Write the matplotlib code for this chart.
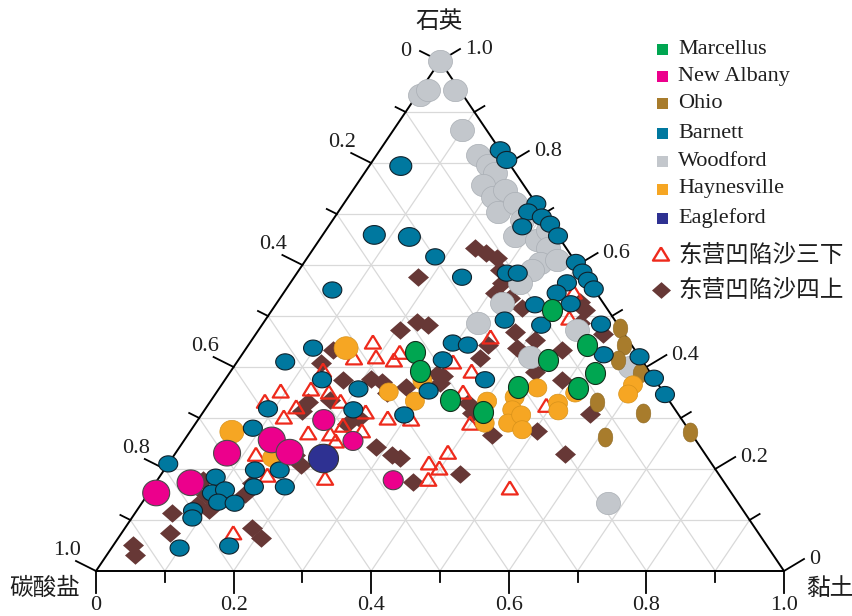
import numpy as np
import matplotlib.pyplot as plt

plt.rcParams["font.family"] = ["Liberation Serif", "Noto Sans CJK SC"]

# Output canvas and the triangle's corners in pixels:
# carbonate apex lower left, clay apex lower right, quartz apex on top.
W, H = 853, 616
X0, X1, Y0, Y1 = 96, 784, 571, 61

# Compositions as (quartz, carbonate, clay) fractions
MARCELLUS = [
    (0.512, 0.081, 0.407), (0.443, 0.065, 0.492), (0.414, 0.136, 0.450),
    (0.388, 0.081, 0.531), (0.361, 0.206, 0.433), (0.359, 0.120, 0.521),
    (0.335, 0.318, 0.347), (0.312, 0.282, 0.406), (0.429, 0.322, 0.249),
    (0.392, 0.333, 0.275),
]
NEW_ALBANY = [
    (0.153, 0.836, 0.011), (0.173, 0.776, 0.051), (0.231, 0.694, 0.075),
    (0.257, 0.616, 0.127), (0.233, 0.602, 0.165), (0.296, 0.521, 0.183),
    (0.255, 0.499, 0.246), (0.178, 0.479, 0.343),
]
OHIO = [
    (0.476, 0.000, 0.524), (0.443, 0.011, 0.546), (0.414, 0.035, 0.551),
    (0.388, 0.015, 0.597), (0.331, 0.106, 0.563), (0.310, 0.050, 0.640),
    (0.263, 0.129, 0.608), (0.272, 0.000, 0.728),
]
BARNETT = [
    (0.794, 0.160, 0.046), (0.825, 0.000, 0.175), (0.806, 0.000, 0.194),
    (0.659, 0.266, 0.075), (0.655, 0.217, 0.128), (0.616, 0.199, 0.185),
    (0.551, 0.381, 0.068), (0.720, 0.000, 0.280), (0.704, 0.020, 0.276),
    (0.694, 0.005, 0.301), (0.675, 0.043, 0.282), (0.680, 0.000, 0.320),
    (0.657, 0.000, 0.343), (0.605, 0.000, 0.395), (0.586, 0.000, 0.414),
    (0.570, 0.000, 0.430), (0.553, 0.000, 0.447), (0.576, 0.180, 0.244),
    (0.584, 0.111, 0.305), (0.584, 0.095, 0.321), (0.565, 0.033, 0.402),
    (0.545, 0.058, 0.397), (0.524, 0.048, 0.428), (0.522, 0.101, 0.377),
    (0.492, 0.160, 0.348), (0.482, 0.112, 0.406), (0.484, 0.024, 0.492),
    (0.447, 0.258, 0.295), (0.443, 0.238, 0.319), (0.414, 0.289, 0.297),
    (0.424, 0.050, 0.526), (0.375, 0.247, 0.378), (0.420, 0.000, 0.580),
    (0.378, 0.000, 0.622), (0.346, 0.000, 0.654), (0.437, 0.466, 0.097),
    (0.410, 0.520, 0.070), (0.375, 0.484, 0.141), (0.357, 0.440, 0.203),
    (0.353, 0.340, 0.307), (0.316, 0.468, 0.216), (0.306, 0.399, 0.295),
    (0.318, 0.591, 0.091), (0.280, 0.632, 0.088), (0.210, 0.790, 0.000),
    (0.184, 0.734, 0.082), (0.198, 0.670, 0.132), (0.198, 0.634, 0.168),
    (0.165, 0.643, 0.192), (0.153, 0.755, 0.092), (0.159, 0.733, 0.108),
    (0.135, 0.755, 0.110), (0.133, 0.732, 0.135), (0.165, 0.688, 0.147),
    (0.118, 0.800, 0.082), (0.104, 0.808, 0.088), (0.045, 0.856, 0.099),
    (0.049, 0.782, 0.169),
]
WOODFORD = [
    (1.000, 0.000, 0.000), (0.933, 0.062, 0.005), (0.943, 0.046, 0.011),
    (0.943, 0.006, 0.051), (0.865, 0.035, 0.100), (0.816, 0.037, 0.147),
    (0.796, 0.032, 0.172), (0.780, 0.030, 0.190), (0.757, 0.059, 0.184),
    (0.733, 0.056, 0.211), (0.747, 0.032, 0.221), (0.704, 0.064, 0.232),
    (0.722, 0.030, 0.248), (0.657, 0.062, 0.281), (0.649, 0.034, 0.317),
    (0.669, 0.009, 0.322), (0.633, 0.027, 0.340), (0.604, 0.053, 0.343),
    (0.610, 0.025, 0.365), (0.590, 0.071, 0.339), (0.565, 0.101, 0.334),
    (0.525, 0.148, 0.327), (0.486, 0.202, 0.312), (0.472, 0.065, 0.463),
    (0.420, 0.159, 0.421), (0.400, 0.024, 0.576), (0.133, 0.190, 0.677),
    (0.688, 0.037, 0.275),
]
HAYNESVILLE = [
    (0.437, 0.418, 0.145), (0.273, 0.666, 0.061), (0.222, 0.633, 0.145),
    (0.351, 0.399, 0.250), (0.333, 0.370, 0.297), (0.373, 0.339, 0.288),
    (0.359, 0.179, 0.462), (0.341, 0.221, 0.438), (0.333, 0.265, 0.402),
    (0.316, 0.237, 0.447), (0.290, 0.256, 0.454), (0.306, 0.229, 0.465),
    (0.277, 0.242, 0.481), (0.290, 0.290, 0.420), (0.329, 0.164, 0.507),
    (0.314, 0.171, 0.515), (0.349, 0.129, 0.522), (0.365, 0.037, 0.598),
    (0.347, 0.053, 0.600),
]
EAGLEFORD = [(0.222, 0.559, 0.219)]
# 东营凹陷 沙三下 samples
SHA3_LOWER = [
    (0.449, 0.373, 0.178), (0.418, 0.416, 0.166), (0.420, 0.383, 0.197),
    (0.414, 0.360, 0.226), (0.429, 0.344, 0.227), (0.394, 0.473, 0.133),
    (0.353, 0.555, 0.092), (0.357, 0.509, 0.134), (0.351, 0.486, 0.163),
    (0.333, 0.588, 0.079), (0.322, 0.548, 0.130), (0.302, 0.576, 0.122),
    (0.333, 0.478, 0.189), (0.312, 0.452, 0.236), (0.300, 0.426, 0.274),
    (0.298, 0.393, 0.309), (0.271, 0.556, 0.173), (0.269, 0.525, 0.206),
    (0.286, 0.498, 0.216), (0.275, 0.476, 0.249), (0.255, 0.524, 0.221),
    (0.229, 0.653, 0.118), (0.188, 0.657, 0.155), (0.182, 0.576, 0.242),
    (0.075, 0.763, 0.162), (0.212, 0.410, 0.378), (0.202, 0.400, 0.398),
    (0.180, 0.427, 0.393), (0.233, 0.372, 0.395), (0.163, 0.317, 0.520),
    (0.410, 0.276, 0.314), (0.392, 0.258, 0.350), (0.351, 0.291, 0.358),
    (0.290, 0.311, 0.399), (0.459, 0.197, 0.344), (0.325, 0.183, 0.492),
    (0.496, 0.064, 0.440), (0.547, 0.032, 0.421),
]
# 东营凹陷 沙四上 samples
SHA4_UPPER = [
    (0.633, 0.133, 0.234), (0.624, 0.121, 0.255), (0.614, 0.110, 0.276),
    (0.590, 0.118, 0.292), (0.565, 0.128, 0.307), (0.545, 0.148, 0.307),
    (0.535, 0.131, 0.334), (0.516, 0.123, 0.361), (0.527, 0.033, 0.440),
    (0.512, 0.033, 0.455), (0.486, 0.053, 0.461), (0.465, 0.031, 0.504),
    (0.469, 0.157, 0.374), (0.443, 0.209, 0.348), (0.418, 0.233, 0.349),
    (0.437, 0.170, 0.393), (0.453, 0.136, 0.411), (0.433, 0.106, 0.461),
    (0.390, 0.167, 0.443), (0.375, 0.135, 0.490), (0.382, 0.305, 0.313),
    (0.329, 0.295, 0.376), (0.310, 0.299, 0.391), (0.267, 0.291, 0.442),
    (0.275, 0.222, 0.503), (0.229, 0.204, 0.567), (0.308, 0.128, 0.564),
    (0.190, 0.376, 0.434), (0.576, 0.244, 0.180), (0.473, 0.321, 0.206),
    (0.488, 0.289, 0.223), (0.482, 0.277, 0.241), (0.433, 0.439, 0.128),
    (0.408, 0.469, 0.123), (0.375, 0.453, 0.172), (0.376, 0.412, 0.212),
    (0.371, 0.399, 0.230), (0.349, 0.402, 0.249), (0.361, 0.369, 0.270),
    (0.386, 0.311, 0.303), (0.369, 0.316, 0.315), (0.331, 0.526, 0.143),
    (0.314, 0.543, 0.143), (0.335, 0.492, 0.173), (0.288, 0.491, 0.221),
    (0.300, 0.468, 0.232), (0.243, 0.472, 0.285), (0.227, 0.456, 0.317),
    (0.222, 0.447, 0.331), (0.175, 0.452, 0.373), (0.208, 0.598, 0.194),
    (0.227, 0.597, 0.176), (0.178, 0.756, 0.066), (0.149, 0.766, 0.085),
    (0.120, 0.776, 0.104), (0.129, 0.789, 0.082), (0.151, 0.708, 0.141),
    (0.173, 0.687, 0.140), (0.114, 0.832, 0.054), (0.075, 0.855, 0.070),
    (0.051, 0.921, 0.028), (0.031, 0.928, 0.041), (0.084, 0.731, 0.185),
    (0.065, 0.728, 0.207),
]

# marker diameters (px) where a series mixes sizes
NEW_ALBANY_D = [27, 27, 27, 27, 27, 22, 20, 20]
HAYNESVILLE_D = [24, 24] + [19] * 17
BARNETT_D = [22, 20, 20, 22, 22] + [19] * 53

AXIS_TICKS = np.round(np.arange(0, 11) / 10, 1)

C_MARC = "#00a651"
C_NALB = "#ec008c"
C_OHIO = "#a87c2c"
C_BARN = "#00789f"
C_WOOD = "#c3c7cc"
C_HAYN = "#f6a623"
C_EAGL = "#2e3192"
C_SHA3 = "#ee2a1c"
C_SHA4 = "#673836"
GRID = "#d9d9d9"
INK = "#1e1e1e"


def to_xy(rows):
    a = np.asarray(rows, dtype=float)
    q, k = a[:, 0], a[:, 2]
    return k + q / 2, q


def s_px(d):
    # scatter size from a diameter in pixels (dpi 100)
    return (np.asarray(d, dtype=float) * 0.72) ** 2


def ellipse(aspect, n=64):
    t = np.linspace(0, 2 * np.pi, n)
    return np.column_stack([np.cos(t), aspect * np.sin(t)])


RHOMB = [(-1, 0), (0, 0.88), (1, 0), (0, -0.88), (-1, 0)]
TRI = [(0, 0.82), (-1, -0.82), (1, -0.82), (0, 0.82)]


def px(dx, dy):
    """pixel offset (dy downward) -> triangle-axes units"""
    return dx / (X1 - X0), -dy / (Y0 - Y1)


fig = plt.figure(figsize=(W / 100, H / 100), dpi=100)
fig.patch.set_facecolor("white")
ax = fig.add_axes([X0 / W, (H - Y0) / H, (X1 - X0) / W, (Y0 - Y1) / H])
ax.set_xlim(0, 1)
ax.set_ylim(0, 1)
ax.axis("off")

# grid every 0.1 in all three directions
for v in AXIS_TICKS[1:-1]:
    ax.plot([v / 2, 1 - v / 2], [v, v], color=GRID, lw=0.9, zorder=0)
    ax.plot([v, v + (1 - v) / 2], [0, 1 - v], color=GRID, lw=0.9, zorder=0)
    ax.plot([1 - v, (1 - v) / 2], [0, 1 - v], color=GRID, lw=0.9, zorder=0)

ax.plot([0, 1, 0.5, 0], [0, 0, 1, 0], color="black", lw=1.4, zorder=1,
        solid_joinstyle="miter", clip_on=False)

tick_kw = dict(color="black", lw=1.3, zorder=1, clip_on=False)
lab_kw = dict(fontsize=16, color=INK, clip_on=False)

for i, v in enumerate(AXIS_TICKS):
    major = i % 2 == 0
    f = 1.0 if major else 0.5
    lab = "0" if v == 0 else f"{v:.1f}"

    # bottom: clay
    tx, ty = px(0, 22 * f)
    ax.plot([v, v + tx], [0, ty], **tick_kw)
    if major:
        ax.text(v, ty + px(0, 3)[1], lab, ha="center", va="top", **lab_kw)

    # left: carbonate, 0 at the quartz apex
    bx, by = (1 - v) / 2, 1 - v
    tx, ty = px(-20 * f, -10 * f)
    ax.plot([bx, bx + tx], [by, by + ty], **tick_kw)
    if major:
        if v == 0:
            ox, oy = px(-9, 0)
            ax.text(bx + tx + ox, by + ty + oy, lab, ha="right", va="center", **lab_kw)
        else:
            ox, oy = px(5, -1)
            ax.text(bx + tx + ox, by + ty + oy, lab, ha="right", va="bottom", **lab_kw)

    # right: quartz
    bx, by = 1 - v / 2, v
    tx, ty = px(20 * f, -12 * f)
    ax.plot([bx, bx + tx], [by, by + ty], **tick_kw)
    if major:
        ox, oy = px(5, 1)
        ax.text(bx + tx + ox, by + ty + oy, lab, ha="left", va="center", **lab_kw)

# sample points
x, y = to_xy(SHA4_UPPER)
ax.scatter(x, y, s=s_px(21), marker=RHOMB, c=C_SHA4, linewidths=0, zorder=2, clip_on=False)

x, y = to_xy(SHA3_LOWER)
ax.scatter(x, y, s=s_px(16), marker=TRI, facecolors="none", edgecolors=C_SHA3,
           linewidths=1.6, zorder=3, clip_on=False)

x, y = to_xy(WOODFORD)
ax.scatter(x, y, s=s_px(24), marker=ellipse(0.93), c=C_WOOD, edgecolors="#a9aeb4",
           linewidths=0.5, zorder=4, clip_on=False)

x, y = to_xy(OHIO)
ax.scatter(x, y, s=s_px(19), marker=ellipse(1.3), c=C_OHIO, edgecolors="#8f6a25",
           linewidths=0.4, zorder=4, clip_on=False)

x, y = to_xy(HAYNESVILLE)
ax.scatter(x, y, s=s_px(HAYNESVILLE_D), marker=ellipse(0.95), c=C_HAYN,
           edgecolors="#d8921a", linewidths=0.5, zorder=5, clip_on=False)

x, y = to_xy(BARNETT)
ax.scatter(x, y, s=s_px(BARNETT_D), marker=ellipse(0.85), c=C_BARN, edgecolors="#10222c",
           linewidths=0.8, zorder=6, clip_on=False)

x, y = to_xy(MARCELLUS)
ax.scatter(x, y, s=s_px(22), marker=ellipse(1.1), c=C_MARC, edgecolors="#14301c",
           linewidths=0.8, zorder=7, clip_on=False)

x, y = to_xy(NEW_ALBANY)
ax.scatter(x, y, s=s_px(NEW_ALBANY_D), marker=ellipse(0.95), c=C_NALB,
           edgecolors="#4a4a4a", linewidths=0.8, zorder=7, clip_on=False)

x, y = to_xy(EAGLEFORD)
ax.scatter(x, y, s=s_px(30), marker=ellipse(0.95), c=C_EAGL, edgecolors="#333333",
           linewidths=0.8, zorder=8, clip_on=False)

# overlay in pixel coordinates for the corner titles and the legend
ov = fig.add_axes([0, 0, 1, 1], zorder=10)
ov.set_xlim(0, W)
ov.set_ylim(H, 0)
ov.axis("off")

cjk = ["Noto Sans CJK SC"]
title_kw = dict(fontsize=17, family=cjk, color=INK, ha="center", va="center")
ov.text(439, 21, "石英", **title_kw)
ov.text(45, 588, "碳酸盐", **title_kw)
ov.text(830, 588, "黏土", **title_kw)

legend_rows = [
    ("Marcellus", C_MARC, 49),
    ("New Albany", C_NALB, 76),
    ("Ohio", C_OHIO, 103),
    ("Barnett", C_BARN, 133),
    ("Woodford", C_WOOD, 161),
    ("Haynesville", C_HAYN, 189),
    ("Eagleford", C_EAGL, 218),
]
for name, col, yy in legend_rows:
    ov.scatter([662], [yy], s=s_px(11), marker="s", c=col, linewidths=0)
    ov.text(678, yy, name, fontsize=16, ha="left", va="center", color=INK)

ov.scatter([661], [254], s=s_px(16), marker=TRI, facecolors="none",
           edgecolors=C_SHA3, linewidths=1.7)
ov.text(678, 255, "东营凹陷沙三下", fontsize=17, family=cjk,
        ha="left", va="center", color=INK)
ov.scatter([661], [290], s=s_px(19), marker=RHOMB, c=C_SHA4, linewidths=0)
ov.text(678, 290, "东营凹陷沙四上", fontsize=17, family=cjk,
        ha="left", va="center", color=INK)

fig.savefig("out.png", dpi=100, facecolor="white")
